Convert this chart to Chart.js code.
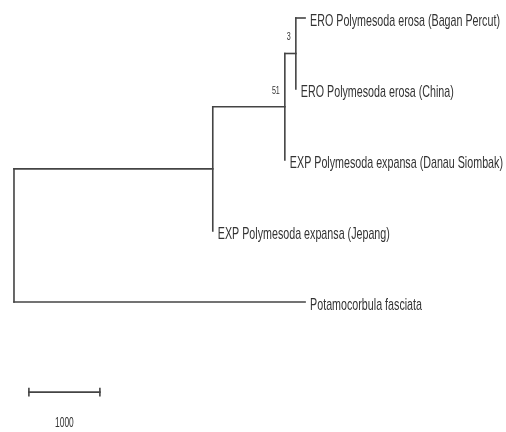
<!DOCTYPE html>
<html>
<head>
<meta charset="utf-8">
<script src="https://cdn.jsdelivr.net/npm/chart.js@4/dist/chart.umd.min.js"></script>
<style>
  body { margin: 0; background: #fff; }
  canvas { display: block; }
</style>
</head>
<body>
<canvas id="tree" width="506" height="432"></canvas>
<script>
// leaves, top to bottom
const taxa = [
    'ERO Polymesoda erosa (Bagan Percut)',
    'ERO Polymesoda erosa (China)',
    'EXP Polymesoda expansa (Danau Siombak)',
    'EXP Polymesoda expansa (Jepang)',
    'Potamocorbula fasciata'
];
// distance from root to each leaf
const tipDepth = [4100, 3970, 3815, 2800, 4100];
const tipParent = ['n3', 'n3', 'n2', 'n1', 'root'];

// internal nodes
const nodeIds = ['root', 'n1', 'n2', 'n3'];
const nodeDepth = [0, 2800, 3815, 3970];
const nodeParent = [null, 'root', 'n1', 'n2'];
const bootstrap = [null, null, '51', '3'];

const scaleBarLength = 1000;

const lineColor = '#444';
const textColor = '#333';

// work out y of every node from its children
const nodeY = {};
const depthOf = {};
nodeIds.forEach((id, i) => depthOf[id] = nodeDepth[i]);
for (let i = nodeIds.length - 1; i >= 0; i--) {
    const id = nodeIds[i];
    const ys = [];
    tipParent.forEach((p, t) => { if (p == id) ys.push(t); });
    nodeParent.forEach((p, n) => { if (p == id) ys.push(nodeY[nodeIds[n]].y); });
    const lo = Math.min(...ys), hi = Math.max(...ys);
    nodeY[id] = { y: (lo + hi) / 2, lo: lo, hi: hi };
}

function seg(x1, y1, x2, y2) {
    return {
        data: [{ x: x1, y: y1 }, { x: x2, y: y2 }],
        showLine: true,
        borderColor: lineColor,
        borderWidth: 1.6,
        pointRadius: 0,
        borderCapStyle: 'square'
    };
}

const datasets = [];
taxa.forEach((name, t) => {
    const from = depthOf[tipParent[t]];
    if (tipDepth[t] > from) datasets.push(seg(from, t, tipDepth[t], t));
});
nodeIds.forEach((id, i) => {
    if (nodeParent[i]) datasets.push(seg(depthOf[nodeParent[i]], nodeY[id].y, nodeDepth[i], nodeY[id].y));
    datasets.push(seg(nodeDepth[i], nodeY[id].lo, nodeDepth[i], nodeY[id].hi));
});

// scale bar
const barX = 210, barY = 5.27;
datasets.push(seg(barX, barY, barX + scaleBarLength, barY));
datasets.push(seg(barX, barY - 0.05, barX, barY + 0.05));
datasets.push(seg(barX + scaleBarLength, barY - 0.05, barX + scaleBarLength, barY + 0.05));

// the reference text is a squeezed Arial, so scale it sideways
function narrowText(ctx, text, x, y, squeeze) {
    ctx.save();
    ctx.translate(x, y);
    ctx.scale(squeeze, 1);
    ctx.fillText(text, 0, 0);
    ctx.restore();
}

const labelsPlugin = {
    id: 'treeLabels',
    afterDatasetsDraw(chart) {
        const ctx = chart.ctx;
        const xs = chart.scales.x, ys = chart.scales.y;
        ctx.save();
        ctx.fillStyle = textColor;
        ctx.textBaseline = 'alphabetic';

        ctx.font = '17px "Liberation Sans", Arial, sans-serif';
        ctx.textAlign = 'left';
        taxa.forEach((name, t) => {
            narrowText(ctx, name, xs.getPixelForValue(tipDepth[t]) + 5, ys.getPixelForValue(t) + 8, 0.63);
        });

        ctx.font = '11px "Liberation Sans", Arial, sans-serif';
        ctx.textAlign = 'right';
        nodeIds.forEach((id, i) => {
            if (!bootstrap[i]) return;
            narrowText(ctx, bootstrap[i], xs.getPixelForValue(nodeDepth[i]) - 5, ys.getPixelForValue(nodeY[id].y) - 13, 0.65);
        });

        ctx.textAlign = 'center';
        ctx.font = '14px "Liberation Sans", Arial, sans-serif';
        narrowText(ctx, String(scaleBarLength), xs.getPixelForValue(barX + scaleBarLength / 2), ys.getPixelForValue(barY) + 35, 0.6);
        ctx.restore();
    }
};

new Chart(document.getElementById('tree'), {
    type: 'scatter',
    data: { datasets: datasets },
    options: {
        responsive: false,
        animation: false,
        layout: { padding: 0 },
        plugins: {
            legend: { display: false },
            tooltip: { enabled: false }
        },
        scales: {
            x: { type: 'linear', display: false, min: -197, max: 6930 },
            y: { type: 'linear', display: false, reverse: true, min: -0.2535, max: 5.831 }
        }
    },
    plugins: [labelsPlugin]
});
</script>
</body>
</html>
